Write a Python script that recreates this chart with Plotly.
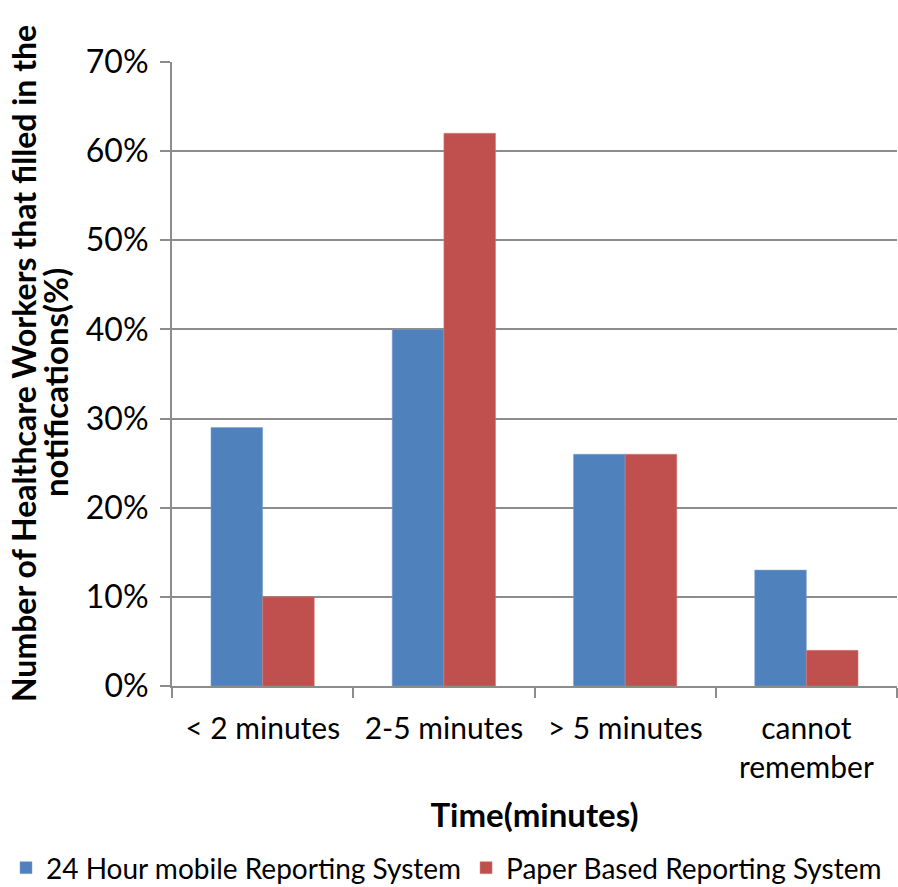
import plotly.graph_objects as go

categories = ["< 2 minutes", "2-5 minutes", "> 5 minutes", "cannot<br>remember"]
mobile_values = [0.29, 0.40, 0.26, 0.13]
paper_values = [0.10, 0.62, 0.26, 0.04]
series_names = ["24 Hour mobile Reporting System", "Paper Based Reporting System"]
y_ticks = [0, 0.1, 0.2, 0.3, 0.4, 0.5, 0.6, 0.7]
y_tick_labels = ["0%", "10%", "20%", "30%", "40%", "50%", "60%", "70%"]
y_title_lines = ["Number of Healthcare Workers that filled in the", "notifications(%)"]

FONT = "Lato, Carlito, Calibri, sans-serif"
GRID = "#8c8c8c"

W, H = 898, 887
L, R, T, B = 172, 1, 62, 201
PH = H - T - B
PW = W - L - R


def px_x(x):
    return (x - L) / PW


def px_y(y):
    return (H - B - y) / PH


fig = go.Figure()
fig.add_trace(go.Bar(x=categories, y=mobile_values, name=series_names[0],
                     marker=dict(color="#4F81BD", line=dict(color="#7fa3d3", width=0.5))))
fig.add_trace(go.Bar(x=categories, y=paper_values, name=series_names[1],
                     marker=dict(color="#C0504D", line=dict(color="#d07a78", width=0.5))))

fig.update_layout(
    width=W, height=H,
    margin=dict(l=L, r=R, t=T, b=B, autoexpand=False),
    paper_bgcolor="white", plot_bgcolor="white",
    barmode="group", bargap=0.43, bargroupgap=0,
    font=dict(family=FONT, size=30, color="black"),
    showlegend=True,
    legend=dict(orientation="h", x=px_x(6), xanchor="left", y=px_y(843), yanchor="top",
                font=dict(size=28), traceorder="normal"),
    xaxis=dict(
        showline=True, linecolor=GRID, linewidth=2,
        ticks="outside", ticklen=10, tickcolor=GRID, tickwidth=2,
        tickson="boundaries", showgrid=False, ticklabelstandoff=15,
        tickfont=dict(size=30),
        title=dict(text="<b>Time(minutes)</b>", font=dict(size=33), standoff=21),
    ),
    yaxis=dict(
        range=[0, 0.7], tickvals=y_ticks, ticktext=y_tick_labels,
        showline=True, linecolor=GRID, linewidth=2,
        ticks="outside", ticklen=10, tickcolor=GRID, tickwidth=2,
        showgrid=True, gridcolor=GRID, gridwidth=2, zeroline=False,
        ticklabelstandoff=5,
        tickfont=dict(size=32),
    ),
    annotations=[
        dict(text="<b>" + y_title_lines[0] + "</b>", xref="paper", yref="paper",
             x=px_x(24), y=px_y(364), xanchor="center", yanchor="middle",
             textangle=-90, showarrow=False, font=dict(size=32, family=FONT)),
        dict(text="<b>" + y_title_lines[1] + "</b>", xref="paper", yref="paper",
             x=px_x(55), y=px_y(383), xanchor="center", yanchor="middle",
             textangle=-90, showarrow=False, font=dict(size=33, family=FONT)),
    ],
)

fig.write_html("out.html", config={"displayModeBar": False})

with open("out.html", "r", encoding="utf-8") as f:
    html = f.read()
html = html.replace("<head>", "<head><style>html,body{margin:0;padding:0;overflow:hidden;}</style>", 1)
with open("out.html", "w", encoding="utf-8") as f:
    f.write(html)
